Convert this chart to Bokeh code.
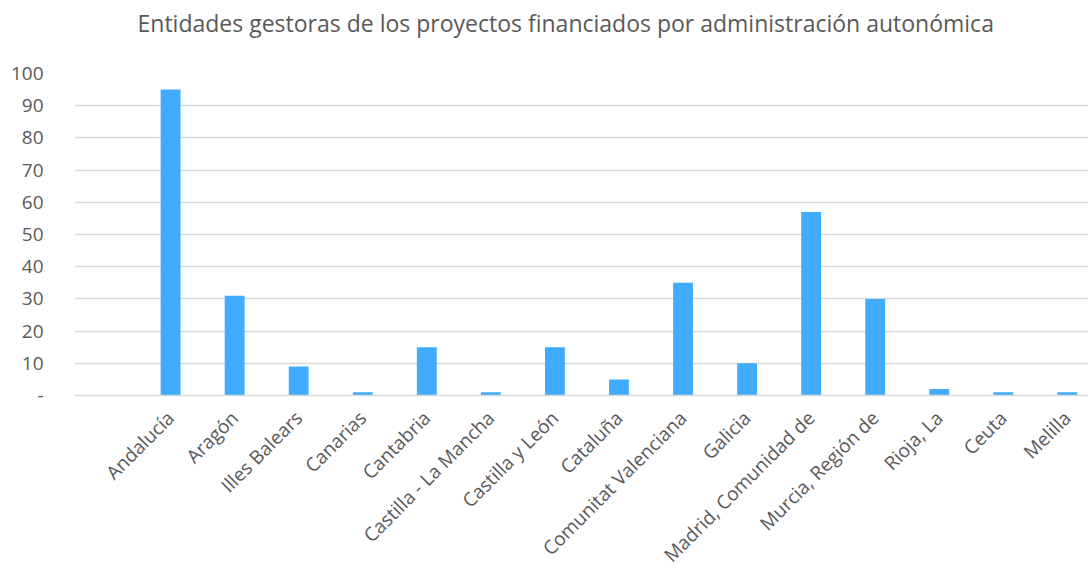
import math
from bokeh.plotting import figure
from bokeh.models import ColumnDataSource, FixedTicker, Range1d, Title
from bokeh.embed import file_html
from bokeh.resources import INLINE

categories = ["Andalucía", "Aragón", "Illes Balears", "Canarias", "Cantabria",
              "Castilla - La Mancha", "Castilla y León", "Cataluña",
              "Comunitat Valenciana", "Galicia", "Madrid, Comunidad de",
              "Murcia, Región de", "Rioja, La", "Ceuta", "Melilla"]
values = [95, 31, 9, 1, 15, 1, 15, 5, 35, 10, 57, 30, 2, 1, 1]
y_ticks = [0, 10, 20, 30, 40, 50, 60, 70, 80, 90, 100]
y_labels = ["-", "10", "20", "30", "40", "50", "60", "70", "80", "90", "100"]
title_text = "Entidades gestoras de los proyectos financiados por administración autonómica"

# positions: first slot left empty (as in the original chart)
xpos = list(range(1, len(categories) + 1))
source = ColumnDataSource(dict(x=xpos, top=values, cat=categories))

FONT = "Open Sans"
GREY = "#595959"

p = figure(width=1088, height=579, output_backend="svg", toolbar_location=None,
           x_range=Range1d(-0.5, 15.33), y_range=Range1d(0, 100),
           min_border_left=74, min_border_top=73, min_border_bottom=182, min_border_right=0)

p.vbar(x="x", top="top", width=0.31, bottom=0, source=source,
       fill_color="#40ABFF", line_color=None)

# main title (outermost panel)
p.title.text = title_text
p.title.align = "left"
p.title.offset = 63
p.title.standoff = 0
p.title.text_font = FONT
p.title.text_font_size = "23px"
p.title.text_font_style = "normal"
p.title.text_color = GREY

# spacer panel between frame and title
p.add_layout(Title(text=" ", text_font_size="1px", standoff=32), "above")

p.outline_line_color = None
p.xgrid.grid_line_color = None
p.ygrid.grid_line_color = "#d9d9d9"
p.ygrid.grid_line_width = 1.3

p.yaxis.ticker = FixedTicker(ticks=y_ticks)
p.yaxis.major_label_overrides = {t: l for t, l in zip(y_ticks, y_labels)}
p.yaxis.axis_line_color = None
p.yaxis.major_tick_line_color = None
p.yaxis.minor_tick_line_color = None
p.yaxis.major_label_text_font = FONT
p.yaxis.major_label_text_font_size = "19px"
p.yaxis.major_label_text_color = GREY
p.yaxis.major_label_standoff = 25

p.xaxis.ticker = FixedTicker(ticks=xpos)
p.xaxis.major_label_overrides = {x: c for x, c in zip(xpos, categories)}
p.xaxis.major_label_orientation = math.pi / 4
p.xaxis.axis_line_color = "#d9d9d9"
p.xaxis.axis_line_width = 1.3
p.xaxis.major_tick_line_color = None
p.xaxis.minor_tick_line_color = None
p.xaxis.major_label_text_font = FONT
p.xaxis.major_label_text_font_size = "19px"
p.xaxis.major_label_text_color = GREY
p.xaxis.major_label_standoff = 13

open("out.html", "w").write(file_html(p, INLINE))
